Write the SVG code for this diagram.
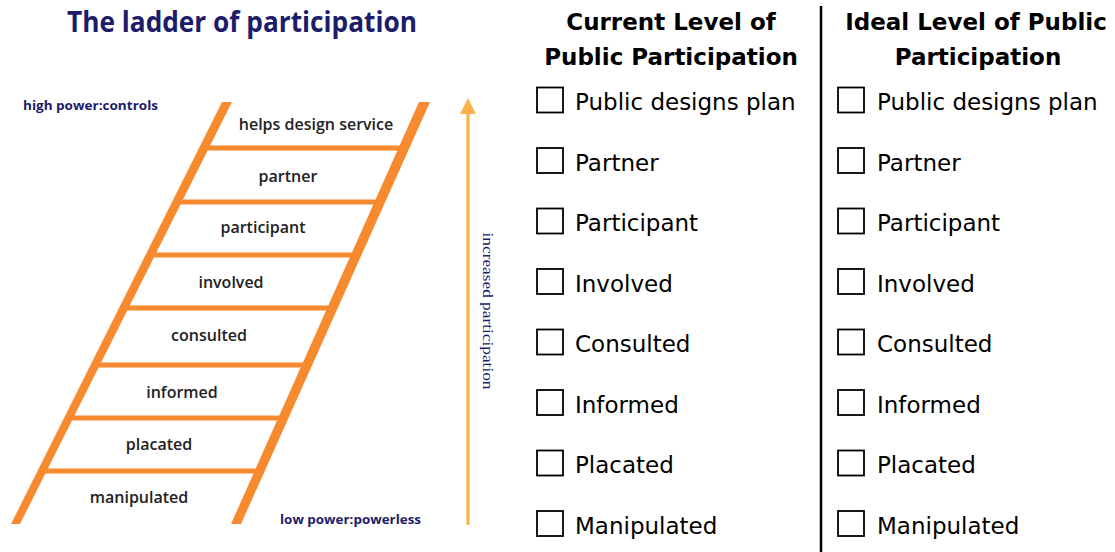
<svg xmlns="http://www.w3.org/2000/svg" width="1115" height="552" viewBox="0 0 1115 552">
<style>
.rail{fill:#F7892F}
.rung{stroke:#F7892F;stroke-width:5}
.step{font-family:"Open Sans","Liberation Sans",sans-serif;font-weight:600;font-size:16px;fill:#222;text-anchor:middle}
.navy{font-family:"Open Sans","Liberation Sans",sans-serif;font-weight:700;fill:#1c1c6b}
.head{font-family:"DejaVu Sans",Tahoma,sans-serif;font-weight:700;font-size:23px;fill:#000;text-anchor:middle}
.opt{font-family:"DejaVu Sans",Tahoma,sans-serif;font-size:23px;fill:#000}
.box{fill:#fff;stroke:#000;stroke-width:1.8}
</style>
<defs>
<marker id="ah" markerWidth="6" markerHeight="5" refX="0" refY="2.5" orient="auto" markerUnits="strokeWidth"><path d="M0,0 L0,5 L5,2.5 Z" fill="#FBB24A"/></marker>
</defs>
<rect width="1115" height="552" fill="#fff"/>

<g id="title"><text class="navy" x="67" y="32" font-size="28" textLength="350" lengthAdjust="spacingAndGlyphs">The ladder of participation</text></g>
<g id="high-power"><text class="navy" x="23" y="110" font-size="12" textLength="135" lengthAdjust="spacingAndGlyphs">high power:controls</text></g>
<g id="low-power"><text class="navy" x="280" y="524" font-size="12" textLength="141" lengthAdjust="spacingAndGlyphs">low power:powerless</text></g>

<g id="ladder">
<line class="rung" x1="204" y1="148" x2="404" y2="148"/>
<line class="rung" x1="177" y1="202" x2="380" y2="202"/>
<line class="rung" x1="150" y1="255" x2="356" y2="255"/>
<line class="rung" x1="124" y1="308" x2="333" y2="308"/>
<line class="rung" x1="95" y1="365" x2="307" y2="365"/>
<line class="rung" x1="69" y1="418" x2="284" y2="418"/>
<line class="rung" x1="42" y1="471" x2="260" y2="471"/>
<polygon class="rail" points="222,102 232,102 20,524 11,524"/>
<polygon class="rail" points="419,102 430,102 241,524 231,524"/>
</g>

<g id="rung-labels">
<text class="step" x="316" y="130">helps design service</text>
<text class="step" x="288" y="182">partner</text>
<text class="step" x="263" y="233">participant</text>
<text class="step" x="231" y="288">involved</text>
<text class="step" x="209" y="341">consulted</text>
<text class="step" x="182" y="398">informed</text>
<text class="step" x="159" y="450">placated</text>
<text class="step" x="139" y="503">manipulated</text>
</g>

<g id="connectors">
<line x1="468" y1="525" x2="468" y2="114" stroke="#FBB24A" stroke-width="3.2" marker-end="url(#ah)"/>
</g>
<g id="arrow-label">
<text x="0" y="0" transform="translate(483,311) rotate(90)" font-family="'Liberation Serif',serif" font-size="14" fill="#1c1c6b" text-anchor="middle" textLength="157" lengthAdjust="spacingAndGlyphs">increased participation</text>
</g>

<g id="divider"><line x1="821" y1="6" x2="821" y2="552" stroke="#000" stroke-width="2.5"/></g>

<g id="current-column">
<text class="head" x="671" y="30">Current Level of</text>
<text class="head" x="671" y="65">Public Participation</text>
<rect class="box" x="537" y="87.5" width="26" height="25"/><text class="opt" x="575" y="110">Public designs plan</text>
<rect class="box" x="537" y="148" width="26" height="25"/><text class="opt" x="575" y="170.5">Partner</text>
<rect class="box" x="537" y="208.5" width="26" height="25"/><text class="opt" x="575" y="231">Participant</text>
<rect class="box" x="537" y="269" width="26" height="25"/><text class="opt" x="575" y="291.5">Involved</text>
<rect class="box" x="537" y="329.5" width="26" height="25"/><text class="opt" x="575" y="352">Consulted</text>
<rect class="box" x="537" y="390" width="26" height="25"/><text class="opt" x="575" y="412.5">Informed</text>
<rect class="box" x="537" y="450.5" width="26" height="25"/><text class="opt" x="575" y="473">Placated</text>
<rect class="box" x="537" y="511" width="26" height="25"/><text class="opt" x="575" y="533.5">Manipulated</text>
</g>

<g id="ideal-column">
<text class="head" x="976" y="30">Ideal Level of Public</text>
<text class="head" x="978" y="65">Participation</text>
<rect class="box" x="838" y="87.5" width="26" height="25"/><text class="opt" x="877" y="110">Public designs plan</text>
<rect class="box" x="838" y="148" width="26" height="25"/><text class="opt" x="877" y="170.5">Partner</text>
<rect class="box" x="838" y="208.5" width="26" height="25"/><text class="opt" x="877" y="231">Participant</text>
<rect class="box" x="838" y="269" width="26" height="25"/><text class="opt" x="877" y="291.5">Involved</text>
<rect class="box" x="838" y="329.5" width="26" height="25"/><text class="opt" x="877" y="352">Consulted</text>
<rect class="box" x="838" y="390" width="26" height="25"/><text class="opt" x="877" y="412.5">Informed</text>
<rect class="box" x="838" y="450.5" width="26" height="25"/><text class="opt" x="877" y="473">Placated</text>
<rect class="box" x="838" y="511" width="26" height="25"/><text class="opt" x="877" y="533.5">Manipulated</text>
</g>
</svg>
